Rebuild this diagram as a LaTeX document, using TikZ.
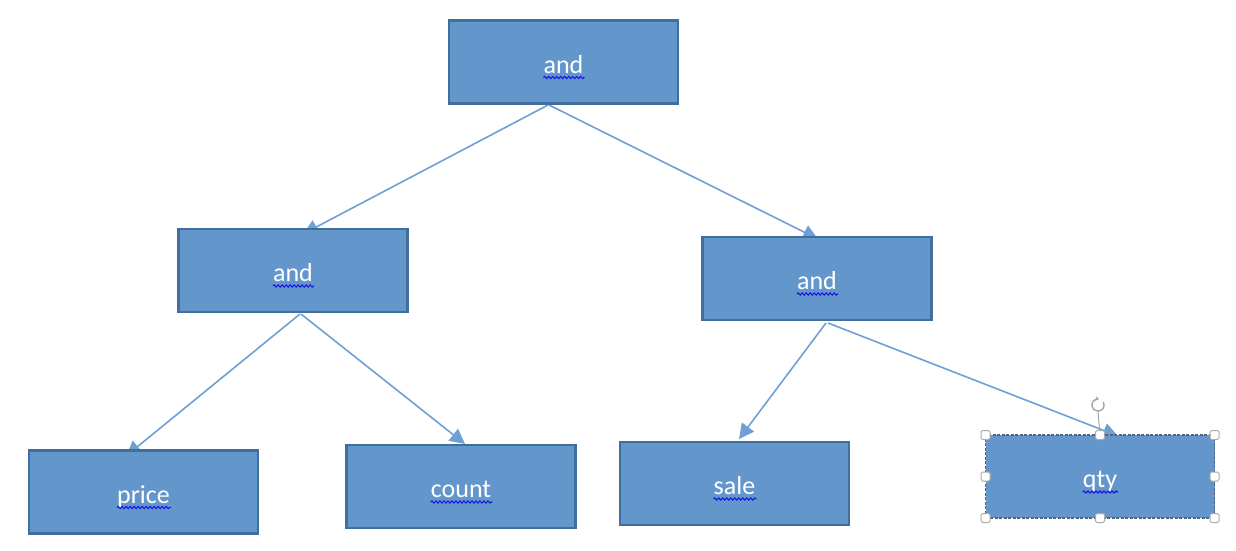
\documentclass[tikz,border=0pt]{standalone}
\usepackage{fontspec}
\setmainfont{Carlito}
\usetikzlibrary{arrows.meta,calc,decorations.pathmorphing}
\definecolor{boxfill}{RGB}{99,151,204}
\definecolor{boxline}{RGB}{66,110,155}
\definecolor{arrowc}{RGB}{110,160,214}
\definecolor{wavy}{RGB}{25,25,225}
\definecolor{selline}{RGB}{85,100,125}
\pgfdeclarelayer{bg}
\pgfdeclarelayer{paper}
\pgfsetlayers{paper,bg,main}
\tikzset{
  box/.style={draw=boxline, line width=2.5pt, fill=boxfill, minimum width=229pt, minimum height=83pt, inner sep=0pt, outer sep=0pt},
  selbox/.style={box, draw=selline, line width=1.5pt, dash pattern=on 3pt off 1.5pt},
  lbl/.style={text=white, font=\fontsize{26}{30}\selectfont, anchor=base, inner sep=0pt},
  arr/.style={draw=arrowc, line width=1.6pt, -{Triangle[length=15pt,width=15pt]}},
  squig/.style={draw=wavy, line width=1.1pt, decorate, decoration={snake, amplitude=1.1pt, segment length=4pt}},
  handle/.style={draw=gray!65, fill=white, line width=1pt, minimum size=9pt, rounded corners=1.5pt, inner sep=0pt},
}
\newcommand{\boxlabel}[3]{%
  \node[lbl] (#1-l) at ($(#1.center)+(0,11)$) {#2};
  \draw[squig] ($(#1-l.base west)+(0,4.5)$) -- ($(#1-l.base east)+(#3,4.5)$);
}
\begin{document}
\begin{tikzpicture}[x=1pt,y=-1pt]
  \begin{pgfonlayer}{paper}
    \fill[white] (0,0) rectangle (1236,550);
  \end{pgfonlayer}
  \useasboundingbox (0,0) rectangle (1236,550);

  \node[box] (top)   at (563.5,62)  {};
  \node[box] (lm)    at (293,270.5) {};
  \node[box] (rm)    at (817,278.5) {};
  \node[box] (price) at (143.5,492) {};
  \node[box] (count) at (461,486.5) {};
  \node[box] (sale)  at (734.5,483.5) {};
  \node[selbox] (qty) at (1100,476.5) {};

  \boxlabel{top}{and}{1}
  \boxlabel{lm}{and}{1}
  \boxlabel{rm}{and}{1}
  \boxlabel{price}{price}{1}
  \boxlabel{count}{count}{1}
  \boxlabel{sale}{sale}{1}
  \boxlabel{qty}{qty}{1}

  \begin{pgfonlayer}{bg}
    \draw[arr] ($(top.south)+(-15.5,1.5)$) -- ($(lm.north)+(10,5)$);
    \draw[arr] ($(top.south)+(-14.5,1.5)$) -- ($(rm.north)+(1,2)$);
    \draw[arr] ($(lm.south)+(7,2)$) -- ($(price.north)+(-17.5,5.5)$);
    \draw[arr] ($(lm.south)+(8,2)$) -- ($(count.north)+(4,-1)$);
    \draw[arr] ($(rm.south)+(9,3)$) -- ($(sale.north)+(4.5,-3)$);
    \draw[arr] ($(rm.south)+(11,3)$) -- ($(qty.north)+(18,1)$);
  \end{pgfonlayer}

  % selection handles of the qty box
  \coordinate (rot) at ($(qty.north)+(-2,-30)$);
  \draw[gray!70, line width=1pt] (qty.north) -- ($(rot)+(0,7)$);
  \node[handle] (h1) at (qty.north west) {};
  \node[handle] (h2) at (qty.north) {};
  \node[handle] (h3) at (qty.north east) {};
  \node[handle] (h4) at (qty.west) {};
  \node[handle] (h5) at (qty.east) {};
  \node[handle] (h6) at (qty.south west) {};
  \node[handle] (h7) at (qty.south) {};
  \node[handle] (h8) at (qty.south east) {};
  \draw[gray!70, line width=1.4pt, -{Stealth[length=3.5pt,width=4.5pt]}]
    ($(rot)+(-30:6)$) arc[start angle=-30, end angle=280, radius=6];
\end{tikzpicture}
\end{document}
